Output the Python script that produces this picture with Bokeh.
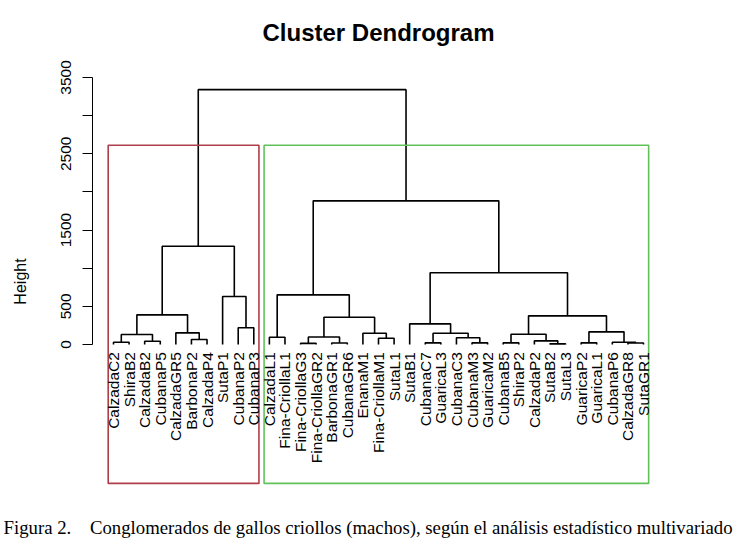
import math
import numpy as np
from bokeh.plotting import figure
from bokeh.models import Range1d, FixedTicker, Title, ColumnDataSource
from bokeh.embed import file_html
from bokeh.resources import INLINE

# ---- data -------------------------------------------------------------
leaf_labels = [
    "CalzadaC2", "ShiraB2", "CalzadaB2", "CubanaP5", "CalzadaGR5", "BarbonaP2",
    "CalzadaP4", "SutaP1", "CubanaP2", "CubanaP3",
    "CalzadaL1", "Fina-CriollaL1", "Fina-CriollaG3", "Fina-CriollaGR2",
    "BarbonaGR1", "CubanaGR6", "EnanaM1", "Fina-CriollaM1", "SutaL1", "SutaB1",
    "CubanaC7", "GuaricaL3", "CubanaC3", "CubanaM3", "GuaricaM2", "CubanaB5",
    "ShiraP2", "CalzadaP2", "SutaB2", "SutaL3", "GuaricaP2", "GuaricaL1",
    "CubanaP6", "CalzadaGR8", "SutaGR1",
]
# hclust-style merges: negative = leaf (1-based position), positive = earlier merge
merge_left = [-1, -3, 1, -6, -5, 3, -9, -8, 6,
              -11, -13, -15, 11, -18, -17, 13, 10,
              -21, -24, -23, 18, -20, -26, -29, -28, 23, -31, -34, -33, 27, 26, 22,
              17, 9]
merge_right = [-2, -4, 2, -7, 4, 5, -10, 7, 8,
               -12, -14, -16, 12, -19, 14, 15, 16,
               -22, -25, 19, 20, 21, -27, -30, 24, 25, -32, -35, 28, 29, 30, 31,
               32, 33]
merge_height = [30, 43, 131, 65, 153, 389, 219, 629, 1288,
                95, 15, 20, 98, 83, 148, 358, 651,
                22, 22, 88, 148, 271, 22, 9, 48, 135, 22, 20, 30, 166, 376, 940,
                1883, 3340]

# rect.hclust(k = 2) boxes
cluster_sizes = [10, 25]
cluster_colors = ["#B03E4A", "#62C25A"]
y_ticks = [0, 500, 1000, 1500, 2000, 2500, 3000, 3500]
hidden_tick_labels = [1000, 2000, 3000]
title_text = "Cluster Dendrogram"
caption_text = ("Figura 2.\u00a0\u00a0\u00a0\u00a0Conglomerados de gallos criollos (machos), "
                "según el análisis estadístico multivariado")

# ---- layout of the tree ----------------------------------------------
n_leaf = len(leaf_labels)
leaf_x = np.arange(1, n_leaf + 1)
node_x, node_h = {}, {}
xs, ys = [], []

def pos(idx):
    if idx < 0:
        return float(leaf_x[-idx - 1]), 0.0
    return node_x[idx], node_h[idx]

for k, (a, b, h) in enumerate(zip(merge_left, merge_right, merge_height), start=1):
    xa, ha = pos(a)
    xb, hb = pos(b)
    node_x[k] = (xa + xb) / 2.0
    node_h[k] = h
    xs.append([xa, xa, xb, xb])
    ys.append([ha, h, h, hb])

cut_top = (merge_height[-1] + merge_height[-2]) / 2.0
edges = np.concatenate([[0], np.cumsum(cluster_sizes)])
rect_left = edges[:-1] + 0.66
rect_right = edges[1:] + 0.33

# ---- figure -------------------------------------------------------------
p = figure(width=738, height=552, output_backend="svg", toolbar_location=None,
           x_range=Range1d(-0.347, 36.347), y_range=Range1d(-1913, 3565),
           x_axis_location=None, y_axis_location="left",
           min_border_left=92, min_border_right=74, min_border_top=72,
           min_border_bottom=62, title=title_text)
p.outline_line_color = None
p.grid.visible = False
p.background_fill_color = "white"

p.title.align = "center"
p.title.vertical_align = "bottom"
p.title.text_font = "Liberation Sans"
p.title.text_font_size = "24px"
p.title.text_font_style = "bold"
p.title.text_color = "black"
p.title.standoff = 0

# spacer between frame and title
p.add_layout(Title(text=" ", text_font_size="1px", standoff=24), "above")

p.multi_line(xs, ys, line_color="black", line_width=1.6)

p.quad(left=rect_left, right=rect_right, bottom=-1820, top=cut_top,
       fill_color=None, line_color=cluster_colors, line_width=1.6)

src = ColumnDataSource(dict(x=leaf_x, y=np.full(n_leaf, -100.0), t=leaf_labels))
p.text(x="x", y="y", text="t", source=src, angle=math.pi / 2,
       text_align="right", text_baseline="middle",
       text_font_size="15.5px", text_color="black",
       text_font={"value": "Liberation Sans"})

ax = p.yaxis[0]
ax.ticker = FixedTicker(ticks=y_ticks)
ax.major_label_overrides = {t: "" for t in hidden_tick_labels}
ax.bounds = (0, 3500)
ax.axis_label = "Height"
ax.axis_label_text_font = "Liberation Sans"
ax.axis_label_text_font_size = "16px"
ax.axis_label_text_font_style = "normal"
ax.axis_label_standoff = 30
ax.major_label_orientation = "vertical"
ax.major_label_text_font = "Liberation Sans"
ax.major_label_text_font_size = "15.5px"
ax.major_label_standoff = 11
ax.major_tick_out = 10
ax.major_tick_in = 0
ax.minor_tick_out = 0
ax.minor_tick_in = 0
ax.axis_line_color = "black"
ax.major_tick_line_color = "black"
ax.major_label_text_color = "black"
ax.axis_label_text_color = "black"

# spacer then caption below the frame
p.add_layout(Title(text=" ", text_font_size="1px", standoff=21), "below")
caption = Title(text=caption_text, align="left", offset=-89, vertical_align="bottom",
                text_font="Liberation Serif", text_font_size="18.75px",
                text_font_style="normal", text_color="black", standoff=0)
p.add_layout(caption, "below")

open("out.html", "w").write(file_html(p, INLINE))
